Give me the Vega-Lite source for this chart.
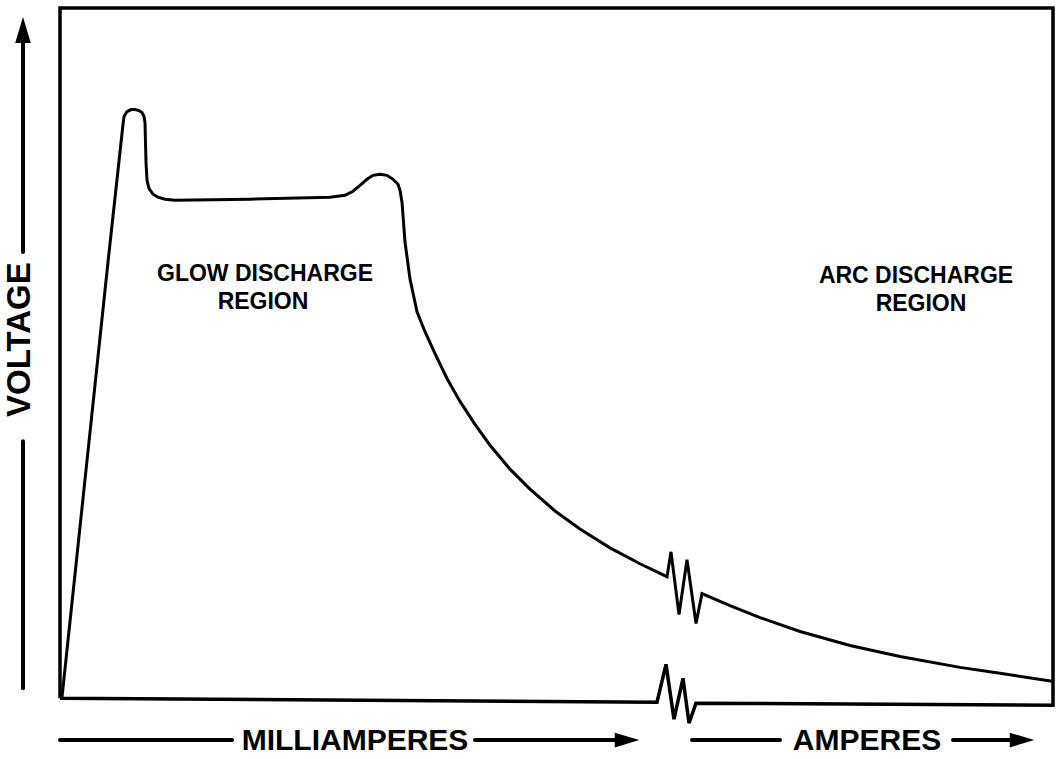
{
  "$schema": "https://vega.github.io/schema/vega-lite/v6.json",
  "width": 1064,
  "height": 759,
  "padding": 0,
  "autosize": {"type": "fit", "contains": "padding"},
  "background": "white",
  "config": {"view": {"stroke": null}},
  "datasets": {
    "curve": [
      {"i": 1, "x": 2, "y": 0}, {"i": 2, "x": 48, "y": 437}, {"i": 3, "x": 63, "y": 575},
      {"i": 4, "x": 64, "y": 583}, {"i": 5, "x": 67, "y": 588}, {"i": 6, "x": 71, "y": 590},
      {"i": 7, "x": 75, "y": 590}, {"i": 8, "x": 79, "y": 589}, {"i": 9, "x": 82, "y": 587},
      {"i": 10, "x": 84, "y": 583}, {"i": 11, "x": 85, "y": 577}, {"i": 12, "x": 86, "y": 537},
      {"i": 13, "x": 87, "y": 519}, {"i": 14, "x": 89, "y": 511}, {"i": 15, "x": 93, "y": 505},
      {"i": 16, "x": 98, "y": 502}, {"i": 17, "x": 105, "y": 500}, {"i": 18, "x": 115, "y": 499},
      {"i": 19, "x": 190, "y": 500}, {"i": 20, "x": 270, "y": 502}, {"i": 21, "x": 285, "y": 504},
      {"i": 22, "x": 293, "y": 508}, {"i": 23, "x": 300, "y": 514}, {"i": 24, "x": 307, "y": 520},
      {"i": 25, "x": 313, "y": 524}, {"i": 26, "x": 320, "y": 525}, {"i": 27, "x": 327, "y": 524},
      {"i": 28, "x": 333, "y": 520}, {"i": 29, "x": 338, "y": 515}, {"i": 30, "x": 340, "y": 509},
      {"i": 31, "x": 342, "y": 497}, {"i": 32, "x": 345, "y": 457}, {"i": 33, "x": 350, "y": 420},
      {"i": 34, "x": 357, "y": 387}, {"i": 35, "x": 365, "y": 367}, {"i": 36, "x": 375, "y": 345},
      {"i": 37, "x": 387, "y": 320}, {"i": 38, "x": 400, "y": 297}, {"i": 39, "x": 415, "y": 274},
      {"i": 40, "x": 430, "y": 253}, {"i": 41, "x": 450, "y": 229}, {"i": 42, "x": 470, "y": 209},
      {"i": 43, "x": 495, "y": 187}, {"i": 44, "x": 520, "y": 169}, {"i": 45, "x": 550, "y": 150},
      {"i": 46, "x": 580, "y": 134}, {"i": 47, "x": 607, "y": 121}, {"i": 48, "x": 611, "y": 146},
      {"i": 49, "x": 619, "y": 83}, {"i": 50, "x": 627, "y": 138}, {"i": 51, "x": 636, "y": 74},
      {"i": 52, "x": 642, "y": 104}, {"i": 53, "x": 670, "y": 92}, {"i": 54, "x": 700, "y": 80},
      {"i": 55, "x": 740, "y": 66}, {"i": 56, "x": 790, "y": 52}, {"i": 57, "x": 840, "y": 41},
      {"i": 58, "x": 900, "y": 30}, {"i": 59, "x": 940, "y": 24}, {"i": 60, "x": 992, "y": 16}
    ],
    "frame": [
      {"i": 1, "x": 0, "y": -1}, {"i": 2, "x": 0, "y": 692}, {"i": 3, "x": 993, "y": 692},
      {"i": 4, "x": 993, "y": -8}, {"i": 5, "x": 636, "y": -6}, {"i": 6, "x": 629, "y": -26},
      {"i": 7, "x": 623, "y": 19}, {"i": 8, "x": 614, "y": -22}, {"i": 9, "x": 606, "y": 33},
      {"i": 10, "x": 597, "y": -5}, {"i": 11, "x": 0, "y": -1}
    ],
    "shafts": [
      {"x": -37, "x2": -37, "y": 657, "y2": 447},
      {"x": -37, "x2": -37, "y": 257, "y2": 9},
      {"x": 0, "x2": 172, "y": -43, "y2": -43},
      {"x": 415, "x2": 560, "y": -43, "y2": -43},
      {"x": 632, "x2": 720, "y": -43, "y2": -43},
      {"x": 893, "x2": 955, "y": -43, "y2": -43}
    ],
    "headsRight": [
      {"x": 567, "y": -43},
      {"x": 962, "y": -43}
    ],
    "headsUp": [
      {"x": -37, "y": 670}
    ],
    "labels": [
      {"x": 205, "y": 425, "t": "GLOW DISCHARGE"},
      {"x": 203, "y": 397, "t": "REGION"},
      {"x": 856, "y": 423, "t": "ARC DISCHARGE"},
      {"x": 861, "y": 395, "t": "REGION"}
    ],
    "axisLabels": [
      {"x": 295, "y": -44, "t": "MILLIAMPERES"},
      {"x": 807, "y": -44, "t": "AMPERES"}
    ],
    "yLabel": [
      {"x": -40, "y": 359, "t": "VOLTAGE"}
    ]
  },
  "encoding": {
    "x": {"field": "x", "type": "quantitative", "axis": null, "scale": {"domain": [-60, 1004], "nice": false, "zero": false}},
    "y": {"field": "y", "type": "quantitative", "axis": null, "scale": {"domain": [-62, 697], "nice": false, "zero": false}}
  },
  "layer": [
    {
      "data": {"name": "frame"},
      "mark": {"type": "line", "color": "black", "strokeWidth": 3.5, "strokeJoin": "miter", "clip": false},
      "encoding": {"order": {"field": "i", "type": "quantitative"}}
    },
    {
      "data": {"name": "curve"},
      "mark": {"type": "line", "color": "black", "strokeWidth": 3, "strokeJoin": "miter"},
      "encoding": {"order": {"field": "i", "type": "quantitative"}}
    },
    {
      "data": {"name": "shafts"},
      "mark": {"type": "rule", "color": "black", "strokeWidth": 4, "strokeCap": "round"},
      "encoding": {
        "x2": {"field": "x2"},
        "y2": {"field": "y2"}
      }
    },
    {
      "data": {"name": "headsRight"},
      "mark": {"type": "point", "filled": true, "color": "black", "opacity": 1, "size": 600, "shape": "M-1,-0.6L1,0L-1,0.6Z"}
    },
    {
      "data": {"name": "headsUp"},
      "mark": {"type": "point", "filled": true, "color": "black", "opacity": 1, "size": 676, "shape": "M-0.6,1L0,-1L0.6,1Z"}
    },
    {
      "data": {"name": "labels"},
      "mark": {"type": "text", "font": "Liberation Sans", "fontWeight": "bold", "fontSize": 23, "color": "black", "align": "center", "baseline": "middle"},
      "encoding": {"text": {"field": "t"}}
    },
    {
      "data": {"name": "axisLabels"},
      "mark": {"type": "text", "font": "Liberation Sans", "fontWeight": "bold", "fontSize": 30, "color": "black", "align": "center", "baseline": "middle"},
      "encoding": {"text": {"field": "t"}}
    },
    {
      "data": {"name": "yLabel"},
      "mark": {"type": "text", "font": "Liberation Sans", "fontWeight": "bold", "fontSize": 33, "color": "black", "align": "center", "baseline": "middle", "angle": 270},
      "encoding": {"text": {"field": "t"}}
    }
  ]
}
